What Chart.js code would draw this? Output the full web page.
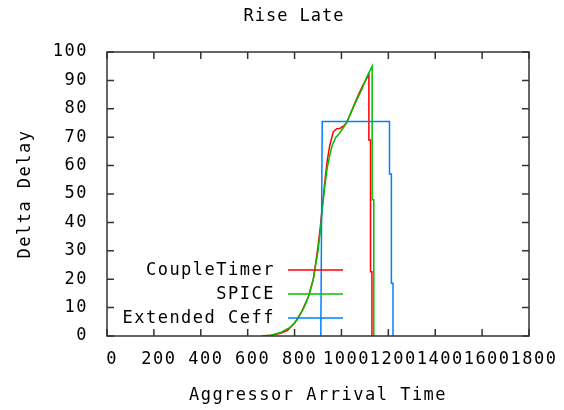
<!DOCTYPE html>
<html>
<head>
<meta charset="utf-8">
<script src="https://cdn.jsdelivr.net/npm/chart.js@4.4.0/dist/chart.umd.min.js"></script>
<style>
  html, body { margin: 0; padding: 0; background: #fff; }
  #wrap { width: 564px; height: 410px; }
</style>
</head>
<body>
<div id="wrap"><canvas id="graficoRise"></canvas></div>
<script>
// valores
var coupleX = [660, 700, 740, 770, 800, 830, 860, 880, 890, 900, 910, 920, 930, 940, 950, 965, 980, 993, 1010, 1022, 1050, 1070, 1090, 1117, 1117, 1124, 1124, 1130, 1130];
var coupleY = [0, 0.3, 1, 2, 4.5, 8.5, 14, 20, 25.5, 31.5, 38.5, 47, 55, 62, 67, 71.9, 73, 73.1, 74, 75.1, 80.5, 84.5, 88, 92.1, 69, 69, 22.6, 22.6, 0];

var spiceX = [660, 700, 740, 780, 810, 840, 860, 880, 890, 900, 910, 920, 930, 940, 950, 960, 975, 990, 1010, 1022, 1050, 1086, 1110, 1131, 1131, 1138, 1138];
var spiceY = [0, 0.3, 1.2, 3, 5.5, 10, 14, 20, 25, 30, 37, 46, 53.5, 59.5, 63.5, 67, 69.8, 71.2, 73.6, 75.1, 80.5, 86.6, 91.5, 95, 48, 48, 0];

var ceffX = [912, 918, 1205, 1205, 1213, 1213, 1220, 1220];
var ceffY = [0, 75.5, 75.5, 57, 57, 18.6, 18.6, 0];

var serieNomes = ["CoupleTimer", "SPICE", "Extended Ceff"];
var serieCores = ["#ff0000", "#00c000", "#0080ff"];

function pontos(xs, ys) {
    var lista = [];
    for (var i = 0; i < xs.length; i++) {
        lista.push({ x: xs[i], y: ys[i] });
    }
    return lista;
}

var fonte = { family: "'DejaVu Sans Mono', monospace", size: 17 };

// espacamento das letras (fonte do gnuplot e mais larga)
var espacamento = {
    id: "espacamento",
    beforeDraw: function (chart) {
        chart.ctx.letterSpacing = "1.5px";
    }
};

// moldura com marcas para dentro nos quatro lados
var moldura = {
    id: "moldura",
    afterDraw: function (chart) {
        var ctx = chart.ctx;
        var a = chart.chartArea;
        var sx = chart.scales.x;
        var sy = chart.scales.y;
        var t = 7;
        ctx.save();
        ctx.strokeStyle = "#333";
        ctx.lineWidth = 1.5;
        ctx.strokeRect(a.left, a.top, a.right - a.left, a.bottom - a.top);
        ctx.beginPath();
        sx.ticks.forEach(function (tk) {
            var px = sx.getPixelForValue(tk.value);
            ctx.moveTo(px, a.bottom); ctx.lineTo(px, a.bottom - t);
            ctx.moveTo(px, a.top); ctx.lineTo(px, a.top + t);
        });
        sy.ticks.forEach(function (tk) {
            var py = sy.getPixelForValue(tk.value);
            ctx.moveTo(a.left, py); ctx.lineTo(a.left + t, py);
            ctx.moveTo(a.right, py); ctx.lineTo(a.right - t, py);
        });
        ctx.stroke();
        ctx.restore();
    }
};

// titulo e legenda no estilo gnuplot
var legendaGnuplot = {
    id: "legendaGnuplot",
    afterDraw: function (chart) {
        var ctx = chart.ctx;
        var a = chart.chartArea;
        ctx.save();
        ctx.letterSpacing = "1px";
        ctx.font = "17px 'DejaVu Sans Mono', monospace";
        ctx.fillStyle = "#000";
        ctx.textAlign = "center";
        ctx.textBaseline = "middle";
        ctx.fillText("Rise Late", (a.left + a.right) / 2 - 24, 17);

        ctx.letterSpacing = "1.5px";
        ctx.textAlign = "right";
        var textoX = a.left + 168;
        var linha0 = a.left + 181;
        var linha1 = a.left + 236;
        chart.data.datasets.forEach(function (ds, i) {
            var y = a.bottom - 66 + i * 24;
            ctx.fillStyle = "#000";
            ctx.fillText(ds.label, textoX, y + 1);
            ctx.strokeStyle = ds.borderColor;
            ctx.lineWidth = 1.5;
            ctx.beginPath();
            ctx.moveTo(linha0, y);
            ctx.lineTo(linha1, y);
            ctx.stroke();
        });
        ctx.restore();
    }
};

const ctx1 = document.getElementById("graficoRise");

new Chart(ctx1, {
    type: "line",
    data: {
        datasets: [{
            label: serieNomes[0],
            data: pontos(coupleX, coupleY),
            borderColor: serieCores[0],
            borderWidth: 1.5,
            order: 3
        }, {
            label: serieNomes[1],
            data: pontos(spiceX, spiceY),
            borderColor: serieCores[1],
            borderWidth: 1.5,
            order: 2
        }, {
            label: serieNomes[2],
            data: pontos(ceffX, ceffY),
            borderColor: serieCores[2],
            borderWidth: 1.5,
            order: 1
        }]
    },
    options: {
        responsive: true,
        maintainAspectRatio: false,
        animation: false,
        devicePixelRatio: 1,
        elements: {
            point: { radius: 0 },
            line: { tension: 0, fill: false }
        },
        layout: {
            padding: { top: 52, right: 35, left: 0, bottom: 0 }
        },
        plugins: {
            legend: { display: false },
            title: { display: false },
            tooltip: { enabled: false }
        },
        scales: {
            x: {
                type: "linear",
                min: 0,
                max: 1800,
                border: { display: false },
                grid: { display: false, drawTicks: false },
                ticks: {
                    stepSize: 200,
                    autoSkip: false,
                    maxRotation: 0,
                    padding: 13,
                    labelOffset: 5,
                    color: "#000",
                    font: fonte,
                    callback: function (v) { return String(v); }
                },
                title: {
                    display: true,
                    text: "Aggressor Arrival Time",
                    color: "#000",
                    font: fonte,
                    padding: { top: 0, bottom: 4 }
                },
                afterFit: function (s) { s.height = 74; }
            },
            y: {
                min: 0,
                max: 100,
                border: { display: false },
                grid: { display: false, drawTicks: false },
                ticks: {
                    stepSize: 10,
                    padding: 19,
                    color: "#000",
                    font: fonte
                },
                title: {
                    display: true,
                    text: "Delta Delay",
                    color: "#000",
                    font: fonte,
                    padding: { top: 15, bottom: 0 }
                },
                afterFit: function (s) { s.width = 107; }
            }
        }
    },
    plugins: [espacamento, moldura, legendaGnuplot]
});
</script>
</body>
</html>
